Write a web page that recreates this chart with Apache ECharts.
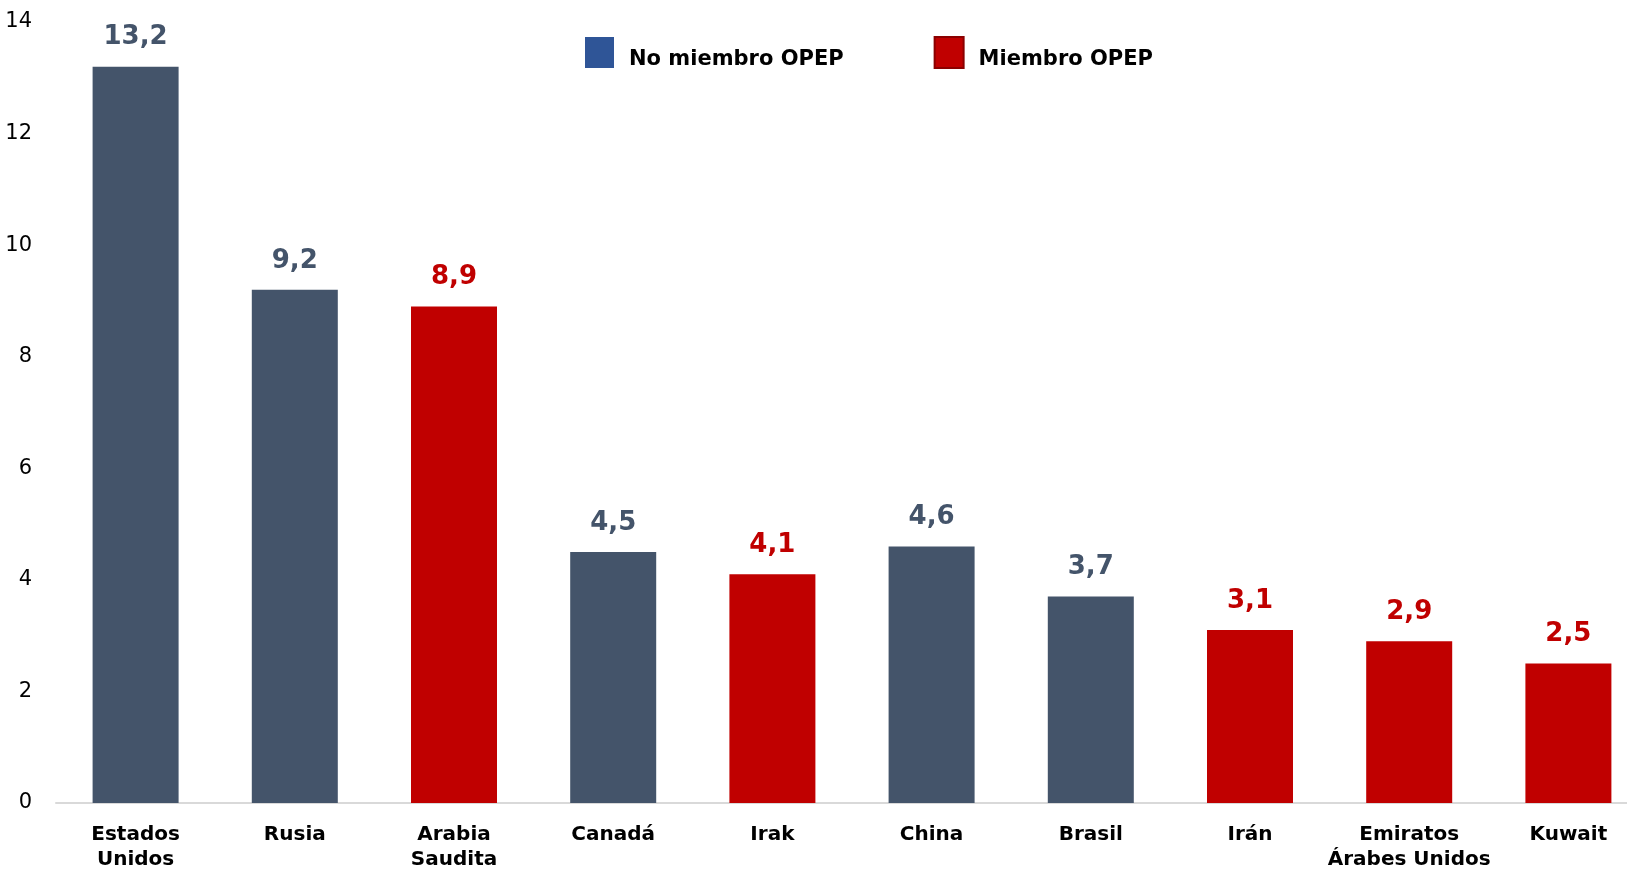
<!DOCTYPE html>
<html>
<head>
<meta charset="utf-8">
<title>Productores de petróleo</title>
<style>
  html, body { margin: 0; padding: 0; background: #fff; }
  #container { width: 1627px; height: 872px; }
</style>
</head>
<body>
<div id="container"></div>
<script src="https://cdn.jsdelivr.net/npm/echarts@6/dist/echarts.min.js"></script>
<script>
var paises = ['Estados\nUnidos', 'Rusia', 'Arabia\nSaudita', 'Canadá', 'Irak', 'China', 'Brasil', 'Irán', 'Emiratos\nÁrabes Unidos', 'Kuwait'];
// '-' where the country belongs to the other group
var noMiembro = [13.2, 9.2, '-', 4.5, '-', 4.6, 3.7, '-', '-', '-'];
var miembro = ['-', '-', 8.9, '-', 4.1, '-', '-', 3.1, 2.9, 2.5];

var gris = '#44546a';
var rojo = '#c00000';
var fuente = 'DejaVu Sans';

function coma(p) {
    return String(p.value).replace('.', ',');
}

var chart = echarts.init(document.getElementById('container'));
chart.setOption({
    animation: false,
    backgroundColor: '#fff',
    textStyle: { fontFamily: fuente },
    legend: {
        top: 31,
        left: 580,
        icon: 'rect',
        itemWidth: 29,
        itemHeight: 31,
        itemGap: 90,
        formatter: '{t|{name}}',
        textStyle: {
            fontSize: 21, fontWeight: 'bold', color: '#000', fontFamily: fuente,
            rich: { t: { fontSize: 21, fontWeight: 'bold', color: '#000', fontFamily: fuente, padding: [14, 0, 0, 10] } }
        },
        data: [
            { name: 'No miembro OPEP', itemStyle: { color: '#2f5597' } },
            { name: 'Miembro OPEP', itemStyle: { color: rojo, borderColor: '#8b0000', borderWidth: 2 } }
        ]
    },
    grid: { left: 56, right: -21, top: 22, bottom: 69, outerBoundsMode: 'none', containLabel: false },
    xAxis: {
        type: 'category',
        data: paises,
        axisLine: { lineStyle: { color: '#d9d9d9', width: 2 } },
        axisTick: { show: false },
        axisLabel: { interval: 0, color: '#000', fontSize: 20, fontWeight: 'bold', margin: 19, lineHeight: 25, fontFamily: fuente }
    },
    yAxis: {
        type: 'value',
        min: 0,
        max: 14,
        interval: 2,
        axisLine: { show: false },
        axisTick: { show: false },
        splitLine: { show: false },
        axisLabel: { color: '#000', fontSize: 21, margin: 24, fontFamily: fuente, padding: [4, 0, 0, 0] }
    },
    series: [
        {
            name: 'No miembro OPEP',
            type: 'bar',
            stack: 'total',
            barWidth: 86,
            data: noMiembro,
            itemStyle: { color: gris },
            label: { show: true, position: 'top', distance: 16, color: gris, fontSize: 26, fontWeight: 'bold', fontFamily: fuente, formatter: coma }
        },
        {
            name: 'Miembro OPEP',
            type: 'bar',
            stack: 'total',
            barWidth: 86,
            data: miembro,
            itemStyle: { color: rojo },
            label: { show: true, position: 'top', distance: 16, color: rojo, fontSize: 26, fontWeight: 'bold', fontFamily: fuente, formatter: coma }
        }
    ]
});
</script>
</body>
</html>
